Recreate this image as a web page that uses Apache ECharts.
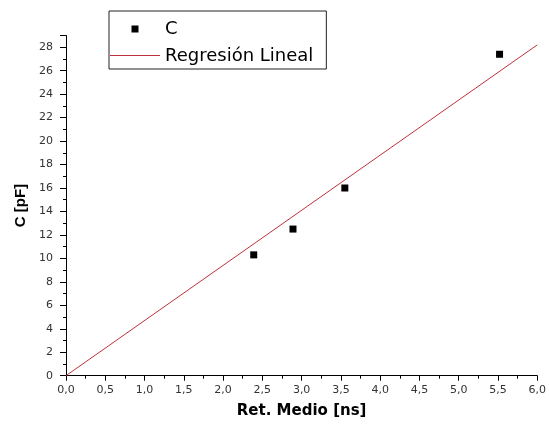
<!DOCTYPE html>
<html>
<head>
<meta charset="utf-8">
<script src="https://cdn.jsdelivr.net/npm/echarts@6/dist/echarts.min.js"></script>
<style>html,body{margin:0;padding:0;background:#fff}#c{width:549px;height:434px}</style>
</head>
<body>
<div id="c"></div>
<script>
// Data
var retMedio = [2.39, 2.89, 3.55, 5.52];     // x values [ns]
var capC = [10.3, 12.5, 16.0, 27.4];          // y values [pF]
var regX = [0.0, 6.0];                        // regression line ends
var regY = [0.0, 28.2];
var seriesNames = ['C', 'Regresión Lineal'];
var xTitle = 'Ret. Medio [ns]';
var yTitle = 'C [pF]';

var scatterData = retMedio.map(function (x, i) { return [x, capC[i]]; });
var lineData = regX.map(function (x, i) { return [x, regY[i]]; });

var chart = echarts.init(document.getElementById('c'), null, {renderer: 'canvas'});
var tickFont = {fontFamily: 'DejaVu Sans', fontSize: 11, color: '#333'};
chart.setOption({
  backgroundColor: '#fff',
  animation: false,
  grid: {left: 66, right: 11, top: 35.5, bottom: 58.3},
  legend: {
    orient: 'vertical',
    left: 109, top: 11,
    padding: [8, 13, 3, 1],
    borderColor: '#222', borderWidth: 1,
    itemWidth: 50, itemHeight: 7, itemGap: 7,
    textStyle: {fontFamily: 'DejaVu Sans', fontSize: 18, color: '#000', lineHeight: 20},
    data: [
      {name: seriesNames[0], icon: 'path://M0,0 M21.5,0 L28.5,0 L28.5,7 L21.5,7 Z M50,7'},
      {name: seriesNames[1], icon: 'path://M0,0 M0,2.5 L50,2.5 L50,3.5 L0,3.5 Z M50,7'}
    ]
  },
  xAxis: {
    type: 'value', min: 0, max: 6, interval: 0.5,
    name: xTitle, nameLocation: 'middle', nameGap: 28,
    nameTextStyle: {fontFamily: 'DejaVu Sans', fontSize: 15, fontWeight: 'bold', color: '#000'},
    axisLine: {lineStyle: {color: '#000', width: 1}},
    axisTick: {length: 5, lineStyle: {color: '#000'}},
    minorTick: {show: true, splitNumber: 2, length: 3, lineStyle: {color: '#000'}},
    splitLine: {show: false},
    axisLabel: Object.assign({margin: 9, formatter: function (v) { return v.toFixed(1).replace('.', ','); }}, tickFont)
  },
  yAxis: {
    type: 'value', min: 0, max: 29, interval: 2,
    name: yTitle, nameLocation: 'middle', nameGap: 31,
    nameTextStyle: {fontFamily: 'Liberation Sans', fontSize: 15, fontWeight: 'bold', color: '#000'},
    axisLine: {show: true, lineStyle: {color: '#000', width: 1}},
    axisTick: {show: true, length: 6, lineStyle: {color: '#000'}},
    minorTick: {show: true, splitNumber: 2, length: 3, lineStyle: {color: '#000'}},
    splitLine: {show: false},
    axisLabel: Object.assign({margin: 13, showMaxLabel: false, formatter: function (v) { return v % 2 === 0 ? String(v) : ''; }}, tickFont)
  },
  series: [
    {
      name: seriesNames[0], type: 'scatter', data: scatterData,
      symbol: 'rect', symbolSize: 7, itemStyle: {color: '#000', opacity: 1}, z: 3
    },
    {
      name: seriesNames[1], type: 'line', data: lineData,
      symbol: 'none', showSymbol: false,
      lineStyle: {color: '#c0303c', width: 1}, itemStyle: {color: '#c0303c'}
    }
  ]
});
</script>
</body>
</html>
